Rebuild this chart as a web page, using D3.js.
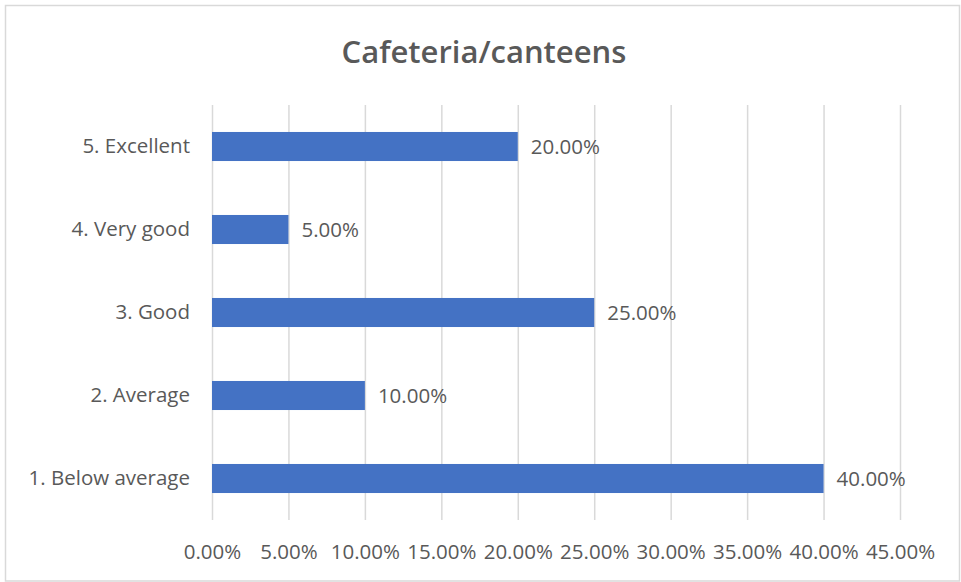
<!DOCTYPE html>
<html><head><meta charset="utf-8">
<script src="https://cdn.jsdelivr.net/npm/d3@7"></script>
<style>body{margin:0;background:#fff}svg{display:block}</style>
</head><body>
<script>
const categories = ["5. Excellent","4. Very good","3. Good","2. Average","1. Below average"];
const values = [0.20,0.05,0.25,0.10,0.40];
const tickValues = [0,0.05,0.10,0.15,0.20,0.25,0.30,0.35,0.40,0.45];
const title = "Cafeteria/canteens";

const W=961,H=582;
const svg=d3.select("body").append("svg").attr("width",W).attr("height",H);
const font="'Open Sans', 'Noto Sans', sans-serif";
svg.append("rect").attr("x",5.5).attr("y",5.5).attr("width",W-7).attr("height",H-6.5)
  .attr("fill","#fff").attr("stroke","#d9d9d9").attr("stroke-width",1.5);

const x=d3.scaleLinear().domain([0,0.45]).range([212,900]);
const y=d3.scaleBand().domain(categories).range([105,520]).paddingInner(0.65).paddingOuter(0.325);

svg.append("text").attr("x",484).attr("y",63).attr("text-anchor","middle")
  .attr("font-family",font).attr("font-weight",600).attr("font-size",31).attr("fill","#595959").text(title);

svg.append("g").selectAll("line").data(tickValues).join("line")
  .attr("x1",d=>x(d)+0.5).attr("x2",d=>x(d)+0.5).attr("y1",105).attr("y2",520)
  .attr("stroke","#d9d9d9").attr("stroke-width",1.5);

const xa=svg.append("g").attr("transform","translate(0,520)")
  .call(d3.axisBottom(x).tickValues(tickValues).tickFormat(d3.format(".2%")).tickSize(0).tickPadding(24));
xa.select(".domain").remove();
xa.selectAll("text").attr("font-family",font).attr("font-size",20.5).attr("fill","#595959");

const ya=svg.append("g").attr("transform","translate(212,0)")
  .call(d3.axisLeft(y).tickSize(0).tickPadding(22));
ya.select(".domain").remove();
ya.selectAll("text").attr("font-family",font).attr("font-size",20.5).attr("fill","#595959");

const data=categories.map((c,i)=>({c,v:values[i]}));
svg.append("g").selectAll("rect").data(data).join("rect")
  .attr("x",x(0)).attr("y",d=>y(d.c)).attr("width",d=>x(d.v)-x(0)).attr("height",y.bandwidth())
  .attr("fill","#4472C4");

svg.append("g").selectAll("text").data(data).join("text")
  .attr("x",d=>x(d.v)+13).attr("y",d=>y(d.c)+y.bandwidth()/2).attr("dy","0.35em")
  .attr("font-family",font).attr("font-size",20.5).attr("fill","#595959")
  .text(d=>d3.format(".2%")(d.v));
</script>
</body></html>
